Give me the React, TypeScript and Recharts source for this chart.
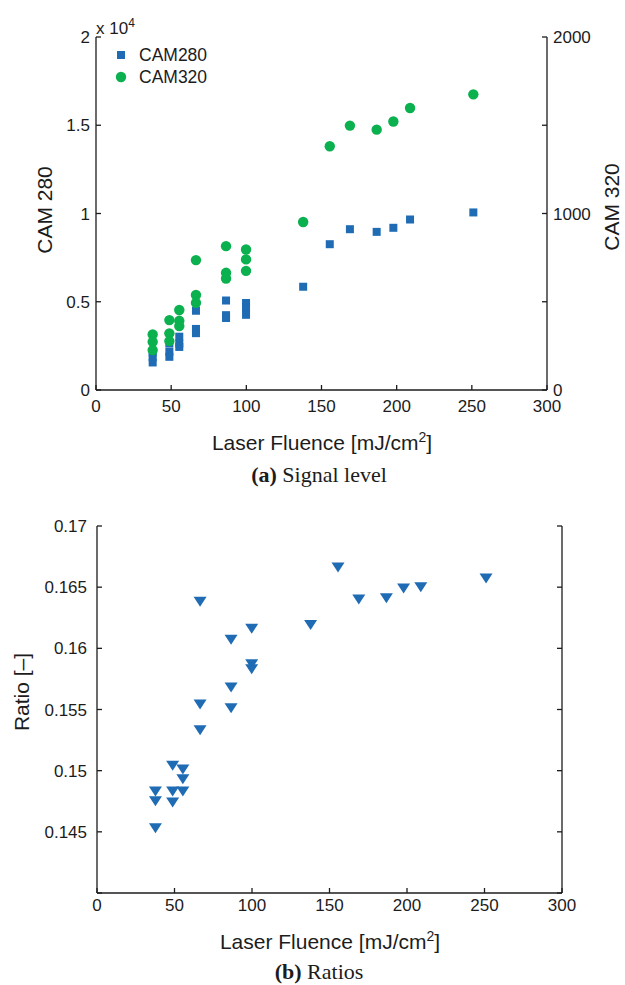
import { ScatterChart, Scatter, XAxis, YAxis, Legend } from 'recharts'

// laser fluence [mJ/cm2] for every measurement
const fluence = [
  37.7, 37.7, 37.7, 48.8, 48.8, 48.8, 55.4, 55.4, 55.4,
  66.5, 66.5, 66.5, 86.5, 86.5, 86.5, 99.8, 99.8, 99.8,
  137.8, 155.5, 168.9, 186.7, 197.8, 208.9, 251,
]
const cam280 = [
  2120, 1850, 1560, 2630, 2160, 1880, 3020, 2630, 2440,
  4490, 3460, 3220, 5070, 4240, 4080, 4930, 4660, 4260,
  5850, 8260, 9110, 8960, 9190, 9660, 10060,
]
const cam320 = [
  315, 273, 226, 396, 321, 277, 453, 392, 362,
  736, 538, 494, 815, 664, 632, 796, 740, 675,
  952, 1381, 1498, 1475, 1521, 1598, 1675,
]
const ratio = [
  0.1483, 0.1475, 0.1453, 0.1504, 0.1483, 0.1474, 0.1501, 0.1493, 0.1483,
  0.1638, 0.1554, 0.1533, 0.1607, 0.1568, 0.1551, 0.1616, 0.1587, 0.1583,
  0.1619, 0.1666, 0.164, 0.1641, 0.1649, 0.165, 0.1657,
]

const fluenceTicks = [0, 50, 100, 150, 200, 250, 300]
const cam280Ticks = [0, 5000, 10000, 15000, 20000]
const cam320Ticks = [0, 500, 1000, 1500, 2000]
const ratioTicks = [0.14, 0.145, 0.15, 0.155, 0.16, 0.165, 0.17]

const BLUE = '#1f6cb4'
const GREEN = '#0ab14e'
const INK = '#1c1c1c'
const SANS = '"Liberation Sans", Arial, Helvetica, sans-serif'
const SERIF = '"Liberation Serif", "Times New Roman", serif'

const cam280Data = fluence.map((x, i) => ({ x, y: cam280[i] }))
const cam320Data = fluence.map((x, i) => ({ x, y: cam320[i] }))
const ratioData = fluence.map((x, i) => ({ x, y: ratio[i] }))

const tickStyle = { fill: INK, fontSize: 17, fontFamily: SANS }
const axisStyle = { stroke: INK, strokeWidth: 1.3 }

const Square = (p: any) => <rect x={p.cx - 4} y={p.cy - 4} width={8} height={8} fill={BLUE} />
const Dot = (p: any) => <circle cx={p.cx} cy={p.cy} r={5.2} fill={GREEN} />
const TriDown = (p: any) => (
  <path d={`M${p.cx - 6.5},${p.cy - 5}L${p.cx + 6.5},${p.cy - 5}L${p.cx},${p.cy + 5}Z`} fill={BLUE} />
)

const legendItems = [
  { name: 'CAM280', icon: <rect x={1} y={1} width={8} height={8} fill={BLUE} /> },
  { name: 'CAM320', icon: <circle cx={5} cy={5} r={5.2} fill={GREEN} /> },
]

function SignalLegend() {
  return (
    <div style={{ fontFamily: SANS, fontSize: 17.5, color: INK, lineHeight: '22px' }}>
      {legendItems.map((it) => (
        <div key={it.name} style={{ display: 'flex', alignItems: 'center' }}>
          <svg width={11} height={11} style={{ marginRight: 12, overflow: 'visible' }}>{it.icon}</svg>
          {it.name}
        </div>
      ))}
    </div>
  )
}

const abs = (x: number, y: number, rot = false): React.CSSProperties => ({
  position: 'absolute',
  left: x,
  top: y,
  transform: `translate(-50%, -50%)${rot ? ' rotate(-90deg)' : ''}`,
  whiteSpace: 'nowrap',
})

const xTitle = (
  <>
    Laser Fluence [mJ/cm<sup style={{ fontSize: 14 }}>2</sup>]
  </>
)

export default function App() {
  return (
    <div style={{ position: 'absolute', left: 0, top: 0, width: 625, height: 985, background: '#fff', fontFamily: SANS, color: INK }}>
      {/* (a) signal level */}
      <div style={{ position: 'absolute', left: 0, top: 0 }}>
        <ScatterChart width={625} height={420} margin={{ top: 37, right: 0, bottom: 0, left: 0 }}>
          <XAxis xAxisId="b" type="number" dataKey="x" domain={[0, 300]} ticks={fluenceTicks} interval={0}
            height={30} tickSize={-5} tickMargin={15} tick={tickStyle} axisLine={axisStyle} tickLine={axisStyle} />
          <XAxis xAxisId="t" orientation="top" type="number" dataKey="x" domain={[0, 300]} ticks={fluenceTicks} interval={0}
            height={0} tickSize={-5} tickFormatter={() => ''} axisLine={axisStyle} tickLine={axisStyle} allowDataOverflow />
          <YAxis yAxisId="l" type="number" dataKey="y" domain={[0, 20000]} ticks={cam280Ticks} interval={0}
            width={96} tickSize={-5} tickMargin={11} tick={tickStyle} axisLine={axisStyle} tickLine={axisStyle}
            tickFormatter={(v: number) => String(v / 10000)} />
          <YAxis yAxisId="r" orientation="right" type="number" dataKey="y" domain={[0, 2000]} ticks={cam320Ticks} interval={0}
            width={78} tickSize={-5} tickMargin={11} tick={tickStyle} axisLine={axisStyle} tickLine={axisStyle}
            tickFormatter={(v: number) => (v % 1000 === 0 ? String(v) : '')} />
          <Legend layout="vertical" align="center" verticalAlign="middle" content={() => <SignalLegend />}
            wrapperStyle={{ left: 116, top: 44, width: 'auto' }} />
          <Scatter name="CAM280" data={cam280Data} xAxisId="b" yAxisId="l" shape={Square} isAnimationActive={false} />
          <Scatter name="CAM320" data={cam320Data} xAxisId="b" yAxisId="r" shape={Dot} isAnimationActive={false} />
        </ScatterChart>
      </div>
      <div style={{ position: 'absolute', left: 96, top: 16, fontSize: 17 }}>
        x 10<sup style={{ fontSize: 12 }}>4</sup>
      </div>
      <div style={{ ...abs(45, 210, true), fontSize: 21 }}>CAM 280</div>
      <div style={{ ...abs(612, 207, true), fontSize: 21 }}>CAM 320</div>
      <div style={{ ...abs(322, 442), fontSize: 21 }}>{xTitle}</div>
      <div style={{ ...abs(319, 475), fontSize: 22, fontFamily: SERIF }}>
        <b>(a)</b> Signal level
      </div>

      {/* (b) ratios */}
      <div style={{ position: 'absolute', left: 0, top: 500 }}>
        <ScatterChart width={625} height={420} margin={{ top: 26, right: 0, bottom: 0, left: 0 }}>
          <XAxis xAxisId="b" type="number" dataKey="x" domain={[0, 300]} ticks={fluenceTicks} interval={0}
            height={27} tickSize={-5} tickMargin={11} tick={tickStyle} axisLine={axisStyle} tickLine={axisStyle} />
          <XAxis xAxisId="t" orientation="top" type="number" dataKey="x" domain={[0, 300]} ticks={fluenceTicks} interval={0}
            height={0} tickSize={-5} tickFormatter={() => ''} axisLine={axisStyle} tickLine={axisStyle} allowDataOverflow />
          <YAxis yAxisId="l" type="number" dataKey="y" domain={[0.14, 0.17]} ticks={ratioTicks} interval={0}
            width={97} tickSize={-5} tickMargin={15} tick={tickStyle} axisLine={axisStyle} tickLine={axisStyle}
            tickFormatter={(v: number) => (v < 0.1425 ? '' : String(+v.toFixed(3)))} allowDataOverflow />
          <YAxis yAxisId="r" orientation="right" type="number" dataKey="y" domain={[0.14, 0.17]} ticks={ratioTicks} interval={0}
            width={63} tickSize={-5} tickFormatter={() => ''} axisLine={axisStyle} tickLine={axisStyle} allowDataOverflow />
          <Scatter name="Ratio" data={ratioData} xAxisId="b" yAxisId="l" shape={TriDown} isAnimationActive={false} />
        </ScatterChart>
      </div>
      <div style={{ ...abs(22, 692, true), fontSize: 21 }}>Ratio [–]</div>
      <div style={{ ...abs(330, 941), fontSize: 21 }}>{xTitle}</div>
      <div style={{ ...abs(319, 972), fontSize: 22, fontFamily: SERIF }}>
        <b>(b)</b> Ratios
      </div>
    </div>
  )
}
